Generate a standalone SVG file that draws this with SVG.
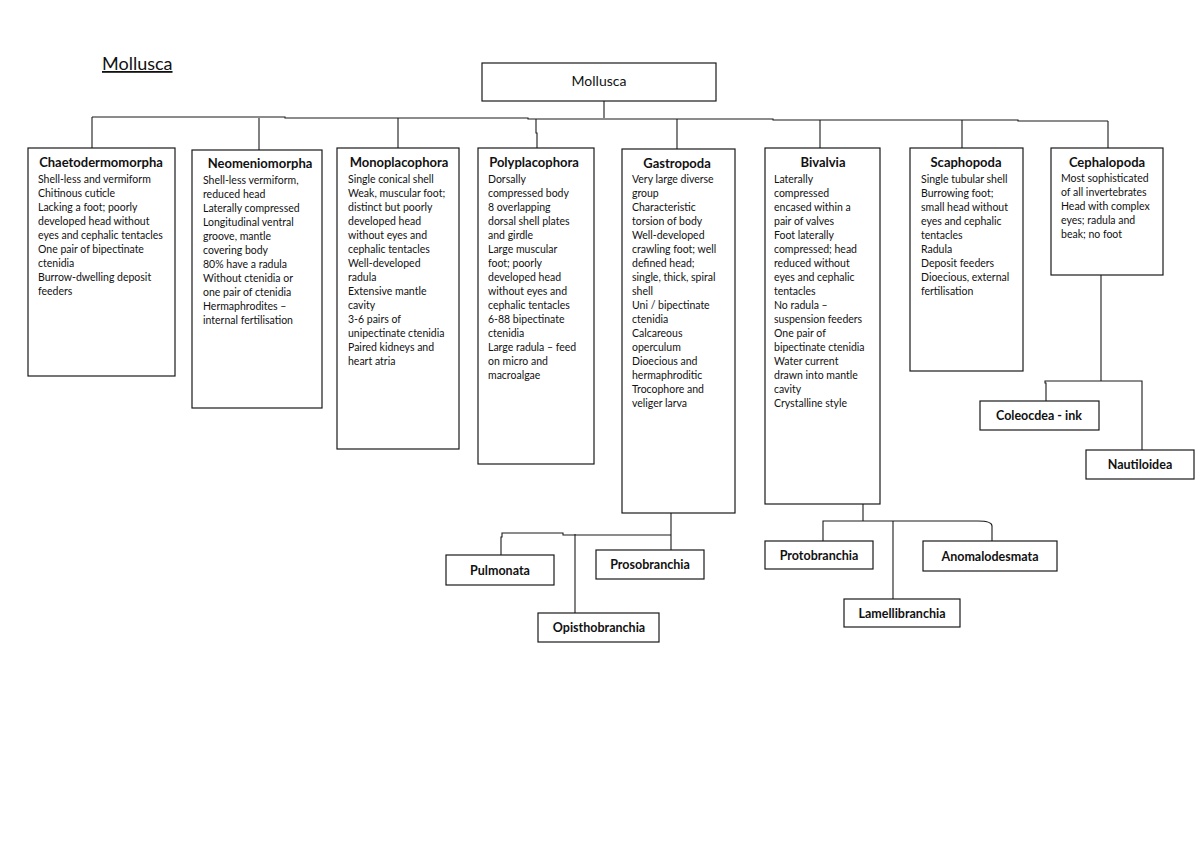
<svg xmlns="http://www.w3.org/2000/svg" width="1200" height="848" viewBox="0 0 1200 848">
<style>
  .bg{fill:#ffffff}
  .box{fill:#ffffff;stroke:#1a1a1a;stroke-width:1.2}
  .ln{fill:none;stroke:#1a1a1a;stroke-width:1.1}
  .t{font-family:Lato,"Liberation Sans",sans-serif;fill:#111}
  .ttl{font-size:13px;font-weight:bold;text-anchor:middle}
  .body{font-size:10.5px}
  .sub{font-size:12.5px;font-weight:bold;text-anchor:middle}
</style>
<rect class="bg" x="0" y="0" width="1200" height="848"/>
<text class="t" x="102" y="70" font-size="18" text-decoration="underline">Mollusca</text>

<g id="connectors">
  <path class="ln" d="M604,101 V118"/>
  <path class="ln" d="M92,117 H285 V118 H528 V119 H773 V120 H1018 V121 H1108"/>
  <path class="ln" d="M92,117 V148"/>
  <path class="ln" d="M259,118 V150"/>
  <path class="ln" d="M398,118 V148"/>
  <path class="ln" d="M536,119 V133 H537 V148"/>
  <path class="ln" d="M677,119 V149"/>
  <path class="ln" d="M820,120 V148"/>
  <path class="ln" d="M962,120 V148"/>
  <path class="ln" d="M1108,121 V148"/>
  <path class="ln" d="M671,513 V550"/>
  <path class="ln" d="M501,555 V537 H502 V533 H563 V535 H671"/>
  <path class="ln" d="M575,534 V613"/>
  <path class="ln" d="M863,504 V521"/>
  <path class="ln" d="M823,541 V521 H978 Q992,521 992,526 V541"/>
  <path class="ln" d="M893,521 V599"/>
  <path class="ln" d="M1101,275 V381"/>
  <path class="ln" d="M1046,401 V383 H1045 V381 H1142 V450"/>
</g>

<g id="n-mollusca">
  <rect class="box" x="482" y="63" width="234" height="38"/>
  <text class="t" x="599" y="86" font-size="14" text-anchor="middle">Mollusca</text>
</g>

<g id="n-chaetodermomorpha">
  <rect class="box" x="28" y="148" width="147" height="228"/>
  <text class="t ttl" x="101" y="167">Chaetodermomorpha</text>
  <text class="t body">
    <tspan x="38" y="183">Shell-less and vermiform</tspan>
    <tspan x="38" y="197">Chitinous cuticle</tspan>
    <tspan x="38" y="211">Lacking a foot; poorly</tspan>
    <tspan x="38" y="225">developed head without</tspan>
    <tspan x="38" y="239">eyes and cephalic tentacles</tspan>
    <tspan x="38" y="253">One pair of bipectinate</tspan>
    <tspan x="38" y="267">ctenidia</tspan>
    <tspan x="38" y="281">Burrow-dwelling deposit</tspan>
    <tspan x="38" y="295">feeders</tspan>
  </text>
</g>

<g id="n-neomeniomorpha">
  <rect class="box" x="192" y="150" width="130" height="258"/>
  <text class="t ttl" x="260" y="168">Neomeniomorpha</text>
  <text class="t body">
    <tspan x="203" y="184">Shell-less vermiform,</tspan>
    <tspan x="203" y="198">reduced head</tspan>
    <tspan x="203" y="212">Laterally compressed</tspan>
    <tspan x="203" y="226">Longitudinal ventral</tspan>
    <tspan x="203" y="240">groove, mantle</tspan>
    <tspan x="203" y="254">covering body</tspan>
    <tspan x="203" y="268">80% have a radula</tspan>
    <tspan x="203" y="282">Without ctenidia or</tspan>
    <tspan x="203" y="296">one pair of ctenidia</tspan>
    <tspan x="203" y="310">Hermaphrodites –</tspan>
    <tspan x="203" y="324">internal fertilisation</tspan>
  </text>
</g>

<g id="n-monoplacophora">
  <rect class="box" x="337" y="148" width="122" height="301"/>
  <text class="t ttl" x="399" y="167">Monoplacophora</text>
  <text class="t body">
    <tspan x="348" y="183">Single conical shell</tspan>
    <tspan x="348" y="197">Weak, muscular foot;</tspan>
    <tspan x="348" y="211">distinct but poorly</tspan>
    <tspan x="348" y="225">developed head</tspan>
    <tspan x="348" y="239">without eyes and</tspan>
    <tspan x="348" y="253">cephalic tentacles</tspan>
    <tspan x="348" y="267">Well-developed</tspan>
    <tspan x="348" y="281">radula</tspan>
    <tspan x="348" y="295">Extensive mantle</tspan>
    <tspan x="348" y="309">cavity</tspan>
    <tspan x="348" y="323">3-6 pairs of</tspan>
    <tspan x="348" y="337">unipectinate ctenidia</tspan>
    <tspan x="348" y="351">Paired kidneys and</tspan>
    <tspan x="348" y="365">heart atria</tspan>
  </text>
</g>

<g id="n-polyplacophora">
  <rect class="box" x="478" y="148" width="116" height="316"/>
  <text class="t ttl" x="534" y="167">Polyplacophora</text>
  <text class="t body">
    <tspan x="488" y="183">Dorsally</tspan>
    <tspan x="488" y="197">compressed body</tspan>
    <tspan x="488" y="211">8 overlapping</tspan>
    <tspan x="488" y="225">dorsal shell plates</tspan>
    <tspan x="488" y="239">and girdle</tspan>
    <tspan x="488" y="253">Large muscular</tspan>
    <tspan x="488" y="267">foot; poorly</tspan>
    <tspan x="488" y="281">developed head</tspan>
    <tspan x="488" y="295">without eyes and</tspan>
    <tspan x="488" y="309">cephalic tentacles</tspan>
    <tspan x="488" y="323">6-88 bipectinate</tspan>
    <tspan x="488" y="337">ctenidia</tspan>
    <tspan x="488" y="351">Large radula – feed</tspan>
    <tspan x="488" y="365">on micro and</tspan>
    <tspan x="488" y="379">macroalgae</tspan>
  </text>
</g>

<g id="n-gastropoda">
  <rect class="box" x="622" y="149" width="113" height="364"/>
  <text class="t ttl" x="677" y="168">Gastropoda</text>
  <text class="t body">
    <tspan x="632" y="183">Very large diverse</tspan>
    <tspan x="632" y="197">group</tspan>
    <tspan x="632" y="211">Characteristic</tspan>
    <tspan x="632" y="225">torsion of body</tspan>
    <tspan x="632" y="239">Well-developed</tspan>
    <tspan x="632" y="253">crawling foot; well</tspan>
    <tspan x="632" y="267">defined head;</tspan>
    <tspan x="632" y="281">single, thick, spiral</tspan>
    <tspan x="632" y="295">shell</tspan>
    <tspan x="632" y="309">Uni / bipectinate</tspan>
    <tspan x="632" y="323">ctenidia</tspan>
    <tspan x="632" y="337">Calcareous</tspan>
    <tspan x="632" y="351">operculum</tspan>
    <tspan x="632" y="365">Dioecious and</tspan>
    <tspan x="632" y="379">hermaphroditic</tspan>
    <tspan x="632" y="393">Trocophore and</tspan>
    <tspan x="632" y="407">veliger larva</tspan>
  </text>
</g>

<g id="n-bivalvia">
  <rect class="box" x="765" y="148" width="115" height="356"/>
  <text class="t ttl" x="823" y="167">Bivalvia</text>
  <text class="t body">
    <tspan x="774" y="183">Laterally</tspan>
    <tspan x="774" y="197">compressed</tspan>
    <tspan x="774" y="211">encased within a</tspan>
    <tspan x="774" y="225">pair of valves</tspan>
    <tspan x="774" y="239">Foot laterally</tspan>
    <tspan x="774" y="253">compressed; head</tspan>
    <tspan x="774" y="267">reduced without</tspan>
    <tspan x="774" y="281">eyes and cephalic</tspan>
    <tspan x="774" y="295">tentacles</tspan>
    <tspan x="774" y="309">No radula –</tspan>
    <tspan x="774" y="323">suspension feeders</tspan>
    <tspan x="774" y="337">One pair of</tspan>
    <tspan x="774" y="351">bipectinate ctenidia</tspan>
    <tspan x="774" y="365">Water current</tspan>
    <tspan x="774" y="379">drawn into mantle</tspan>
    <tspan x="774" y="393">cavity</tspan>
    <tspan x="774" y="407">Crystalline style</tspan>
  </text>
</g>

<g id="n-scaphopoda">
  <rect class="box" x="910" y="148" width="113" height="223"/>
  <text class="t ttl" x="966" y="167">Scaphopoda</text>
  <text class="t body">
    <tspan x="921" y="183">Single tubular shell</tspan>
    <tspan x="921" y="197">Burrowing foot;</tspan>
    <tspan x="921" y="211">small head without</tspan>
    <tspan x="921" y="225">eyes and cephalic</tspan>
    <tspan x="921" y="239">tentacles</tspan>
    <tspan x="921" y="253">Radula</tspan>
    <tspan x="921" y="267">Deposit feeders</tspan>
    <tspan x="921" y="281">Dioecious, external</tspan>
    <tspan x="921" y="295">fertilisation</tspan>
  </text>
</g>

<g id="n-cephalopoda">
  <rect class="box" x="1051" y="148" width="112" height="127"/>
  <text class="t ttl" x="1107" y="167">Cephalopoda</text>
  <text class="t body">
    <tspan x="1061" y="182">Most sophisticated</tspan>
    <tspan x="1061" y="196">of all invertebrates</tspan>
    <tspan x="1061" y="210">Head with complex</tspan>
    <tspan x="1061" y="224">eyes; radula and</tspan>
    <tspan x="1061" y="238">beak; no foot</tspan>
  </text>
</g>

<g id="n-pulmonata">
  <rect class="box" x="446" y="555" width="108" height="30"/>
  <text class="t sub" x="500" y="575">Pulmonata</text>
</g>
<g id="n-prosobranchia">
  <rect class="box" x="596" y="550" width="108" height="29"/>
  <text class="t sub" x="650" y="569">Prosobranchia</text>
</g>
<g id="n-opisthobranchia">
  <rect class="box" x="538" y="613" width="121" height="29"/>
  <text class="t sub" x="599" y="632">Opisthobranchia</text>
</g>
<g id="n-protobranchia">
  <rect class="box" x="765" y="541" width="108" height="28"/>
  <text class="t sub" x="819" y="560">Protobranchia</text>
</g>
<g id="n-lamellibranchia">
  <rect class="box" x="844" y="599" width="116" height="28"/>
  <text class="t sub" x="902" y="618">Lamellibranchia</text>
</g>
<g id="n-anomalodesmata">
  <rect class="box" x="923" y="541" width="134" height="30"/>
  <text class="t sub" x="990" y="561">Anomalodesmata</text>
</g>
<g id="n-coleocdea">
  <rect class="box" x="980" y="401" width="119" height="29"/>
  <text class="t sub" x="1039" y="420">Coleocdea - ink</text>
</g>
<g id="n-nautiloidea">
  <rect class="box" x="1086" y="450" width="108" height="29"/>
  <text class="t sub" x="1140" y="469">Nautiloidea</text>
</g>
</svg>
